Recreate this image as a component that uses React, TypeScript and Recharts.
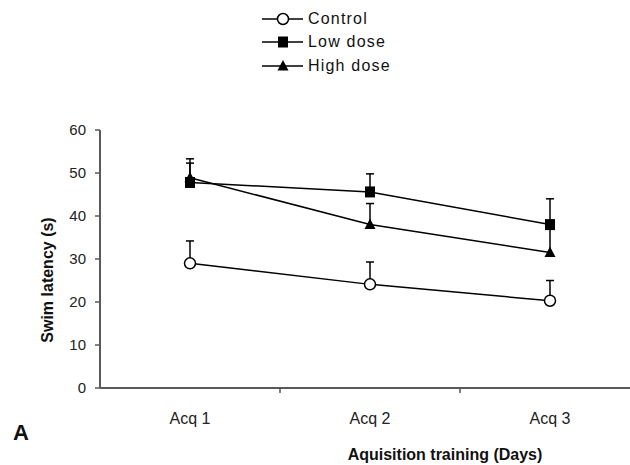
import React from "react";
import {
  LineChart,
  Line,
  XAxis,
  YAxis,
  Legend,
  ErrorBar,
  Label,
} from "recharts";

// values
const categories = ["Acq 1", "Acq 2", "Acq 3"];
const control = [29, 24.1, 20.3];
const controlErr = [5.2, 5.2, 4.7];
const lowDose = [47.8, 45.6, 38];
const lowDoseErr = [5.5, 4.2, 6];
const highDose = [48.9, 38, 31.5];
const highDoseErr = [3.4, 4.9, 6.3];
const yTicks = [0, 10, 20, 30, 40, 50, 60];

const CHART_W = 640;
const CHART_H = 465;
const MARGIN = { top: 130, right: 0, bottom: 0, left: 40 };
const Y_W = 60;
const X_PAD = 90;
const FONT = "'Liberation Sans', Arial, sans-serif";

const data = categories.map((day, i) => ({
  day,
  control: control[i],
  controlErr: [0, controlErr[i]],
  lowDose: lowDose[i],
  lowDoseErr: [0, lowDoseErr[i]],
  highDose: highDose[i],
  highDoseErr: [0, highDoseErr[i]],
}));

type Kind = "circle" | "square" | "triangle";

const series: { key: string; err: string; name: string; kind: Kind }[] = [
  { key: "control", err: "controlErr", name: "Control", kind: "circle" },
  { key: "lowDose", err: "lowDoseErr", name: "Low dose", kind: "square" },
  { key: "highDose", err: "highDoseErr", name: "High dose", kind: "triangle" },
];

const Marker = ({ kind, cx, cy }: { kind: Kind; cx: number; cy: number }) => {
  if (kind === "circle")
    return <circle cx={cx} cy={cy} r={5.5} fill="#fff" stroke="#000" strokeWidth={1.5} />;
  if (kind === "square")
    return <rect x={cx - 5} y={cy - 5.5} width={10} height={11} fill="#000" />;
  return (
    <polygon
      points={`${cx},${cy - 6} ${cx - 5.5},${cy + 4.5} ${cx + 5.5},${cy + 4.5}`}
      fill="#000"
    />
  );
};

const renderDot = (kind: Kind) => (p: any) => {
  if (p.cx == null || p.cy == null) return <g key={p.index} />;
  return <Marker key={p.index} kind={kind} cx={p.cx} cy={p.cy} />;
};

const renderLegend = () => (
  <div style={{ fontFamily: FONT, fontSize: 16, letterSpacing: 1.2, color: "#111" }}>
    {series.map((s) => (
      <div key={s.key} style={{ display: "flex", alignItems: "center", height: 23.5 }}>
        <svg width={46} height={16} style={{ display: "block" }}>
          <line x1={0} x2={41} y1={8} y2={8} stroke="#000" strokeWidth={1.5} />
          <Marker kind={s.kind} cx={21} cy={8} />
        </svg>
        <span>{s.name}</span>
      </div>
    ))}
  </div>
);

const plotW = CHART_W - MARGIN.left - Y_W - MARGIN.right;
const halfStep = (plotW - 2 * X_PAD) / (categories.length - 1) / 2;

const XTick = (props: any) => {
  const { x, y, payload, index } = props;
  return (
    <g>
      <text
        x={x}
        y={y + 36}
        textAnchor="middle"
        fontFamily={FONT}
        fontSize={16}
        fill="#222"
      >
        {payload.value}
      </text>
      {index < categories.length - 1 && (
        <line x1={x + halfStep} x2={x + halfStep} y1={y} y2={y + 5} stroke="#555" strokeWidth={1.5} />
      )}
    </g>
  );
};

const XTitle = (props: any) => {
  const vb = props.viewBox;
  return (
    <text
      x={vb.x + vb.width / 2 + 75}
      y={vb.y + 72}
      textAnchor="middle"
      fontFamily={FONT}
      fontWeight="bold"
      fontSize={16}
      fill="#111"
    >
      Aquisition training (Days)
    </text>
  );
};

const PanelTag = () => (
  <text x={13} y={440} fontFamily={FONT} fontWeight="bold" fontSize={22} fill="#111">
    A
  </text>
);

const YTitle = (props: any) => {
  const vb = props.viewBox;
  const cx = vb.x + 7;
  const cy = vb.y + vb.height / 2 + 21;
  return (
    <text
      x={cx}
      y={cy}
      transform={`rotate(-90 ${cx} ${cy})`}
      textAnchor="middle"
      fontFamily={FONT}
      fontWeight="bold"
      fontSize={16}
      fill="#111"
      dominantBaseline="central"
    >
      Swim latency (s)
    </text>
  );
};

export default function App() {
  return (
    <div
      style={{
        position: "absolute",
        left: 0,
        top: 0,
        width: 630,
        height: CHART_H,
        overflow: "hidden",
        background: "#fff",
      }}
    >
      {/* only the upper whisker is shown in the figure */}
      <style>{`.recharts-errorBar line:nth-of-type(3){display:none}`}</style>
      <LineChart width={CHART_W} height={CHART_H} data={data} margin={MARGIN}>
        <XAxis
          dataKey="day"
          height={77}
          padding={{ left: X_PAD, right: X_PAD }}
          tickLine={false}
          tickSize={0}
          tickMargin={0}
          tick={<XTick />}
          axisLine={{ stroke: "#5a5a5a", strokeWidth: 2 }}
        >
          <Label content={<XTitle />} />
          <Label content={<PanelTag />} />
        </XAxis>
        <YAxis
          width={Y_W}
          domain={[0, 60]}
          ticks={yTicks}
          interval={0}
          tickSize={5}
          tickMargin={9}
          tick={{ fontFamily: FONT, fontSize: 15, fill: "#222" }}
          tickLine={{ stroke: "#5a5a5a", strokeWidth: 1.5 }}
          axisLine={{ stroke: "#5a5a5a", strokeWidth: 2 }}
        >
          <Label content={<YTitle />} />
        </YAxis>
        <Legend
          layout="vertical"
          align="center"
          verticalAlign="middle"
          content={renderLegend}
          wrapperStyle={{ top: 7, left: 262, width: "auto" }}
        />
        {series.map((s) => (
          <Line
            key={s.key}
            dataKey={s.key}
            name={s.name}
            type="linear"
            stroke="#000"
            strokeWidth={1.5}
            dot={renderDot(s.kind)}
            activeDot={false}
            isAnimationActive={false}
          >
            <ErrorBar
              dataKey={s.err}
              direction="y"
              width={4}
              stroke="#000"
              strokeWidth={1.5}
              isAnimationActive={false}
            />
          </Line>
        ))}
      </LineChart>
    </div>
  );
}
